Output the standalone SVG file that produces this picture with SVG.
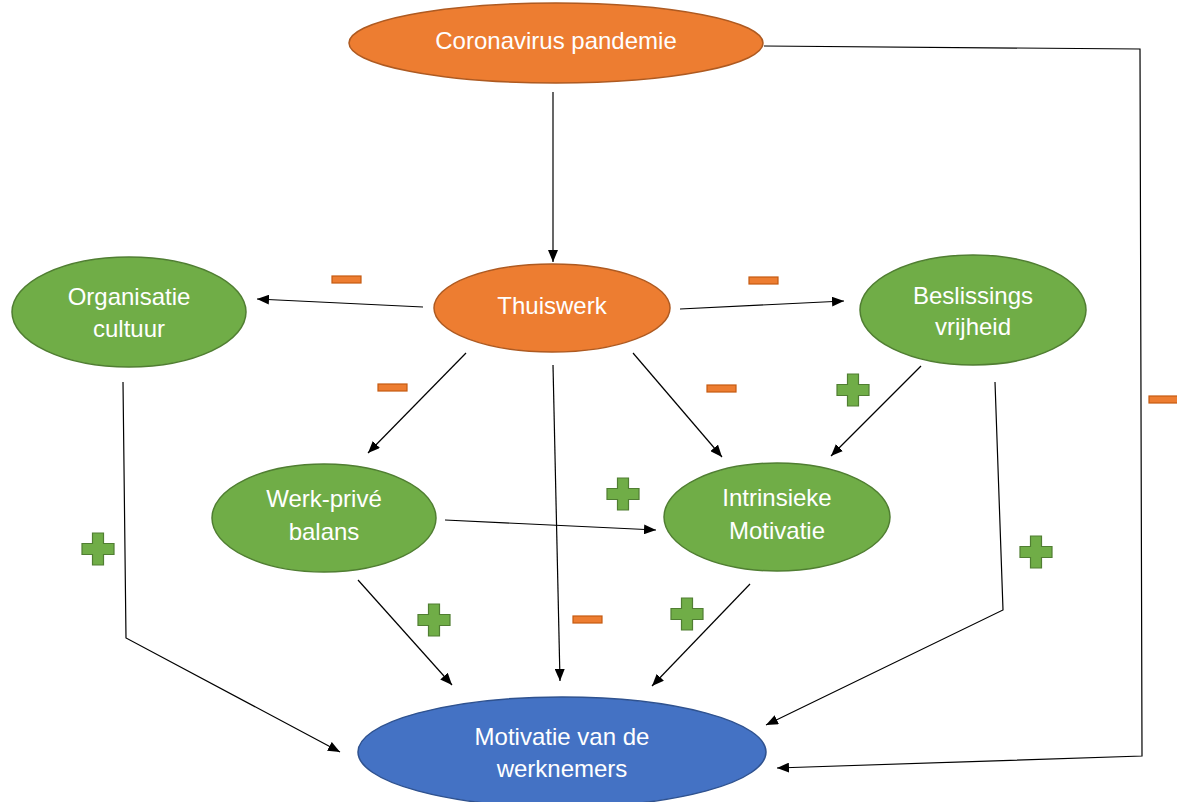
<svg xmlns="http://www.w3.org/2000/svg" width="1177" height="802" viewBox="0 0 1177 802">
<style>
.o{fill:#ED7D31;stroke:#AE5A21;stroke-width:1.5}
.g{fill:#70AD47;stroke:#507E32;stroke-width:1.5}
.b{fill:#4472C4;stroke:#2F528F;stroke-width:1.5}
.t{font-family:"Liberation Sans",Arial,sans-serif;font-size:24px;fill:#fff;text-anchor:middle}
.c{fill:none;stroke:#000;stroke-width:1.2}
.m{fill:#ED7D31;stroke:#C55A11;stroke-width:1.2}
.p{fill:#70AD47;stroke:#507E32;stroke-width:1.2}
</style>
<defs>
<marker id="a" viewBox="0 0 12 10" refX="12" refY="5" markerWidth="12" markerHeight="10" orient="auto" markerUnits="userSpaceOnUse"><path d="M0,0 L12,5 L0,10 z" fill="#000"/></marker>
<path id="plus" d="M-5.5,-16 H5.5 V-5.5 H16 V5.5 H5.5 V16 H-5.5 V5.5 H-16 V-5.5 H-5.5 Z"/>
</defs>
<rect width="1177" height="802" fill="#fff"/>
<g id="connectors">
<line class="c" x1="553" y1="92" x2="553" y2="262" marker-end="url(#a)"/>
<line class="c" x1="423" y1="307" x2="257" y2="299" marker-end="url(#a)"/>
<line class="c" x1="680" y1="309" x2="844" y2="301" marker-end="url(#a)"/>
<line class="c" x1="466" y1="353" x2="368" y2="453" marker-end="url(#a)"/>
<line class="c" x1="553" y1="365" x2="560" y2="681" marker-end="url(#a)"/>
<line class="c" x1="633" y1="353" x2="722" y2="457" marker-end="url(#a)"/>
<line class="c" x1="921" y1="366" x2="831" y2="456" marker-end="url(#a)"/>
<line class="c" x1="445" y1="520" x2="656" y2="530" marker-end="url(#a)"/>
<polyline class="c" points="123,382 126,638 340,752" marker-end="url(#a)"/>
<line class="c" x1="358" y1="580" x2="452" y2="685" marker-end="url(#a)"/>
<line class="c" x1="750" y1="584" x2="652" y2="686" marker-end="url(#a)"/>
<polyline class="c" points="995,382 1003,610 766,725" marker-end="url(#a)"/>
<polyline class="c" points="764,46 1140,49 1142,756 777,768" marker-end="url(#a)"/>
</g>
<g id="signs">
<rect class="m" x="332" y="276" width="29" height="7"/>
<rect class="m" x="749" y="277" width="29" height="7"/>
<rect class="m" x="378" y="384" width="29" height="7"/>
<rect class="m" x="707" y="385" width="29" height="7"/>
<rect class="m" x="1149" y="396" width="29" height="7"/>
<rect class="m" x="573" y="616" width="29" height="7"/>
<use href="#plus" class="p" x="853" y="390"/>
<use href="#plus" class="p" x="98" y="549"/>
<use href="#plus" class="p" x="623" y="494"/>
<use href="#plus" class="p" x="434" y="620"/>
<use href="#plus" class="p" x="687" y="614"/>
<use href="#plus" class="p" x="1036" y="552"/>
</g>
<g id="corona">
<ellipse class="o" cx="556" cy="43" rx="207" ry="40"/>
<text class="t" x="556" y="49">Coronavirus pandemie</text>
</g>
<g id="thuiswerk">
<ellipse class="o" cx="552" cy="308" rx="118" ry="44"/>
<text class="t" x="552" y="314">Thuiswerk</text>
</g>
<g id="organisatie">
<ellipse class="g" cx="129" cy="312" rx="117" ry="55"/>
<text class="t" x="129" y="305">Organisatie</text>
<text class="t" x="129" y="337">cultuur</text>
</g>
<g id="beslissings">
<ellipse class="g" cx="973" cy="310" rx="113" ry="55"/>
<text class="t" x="973" y="304">Beslissings</text>
<text class="t" x="973" y="335">vrijheid</text>
</g>
<g id="werkprive">
<ellipse class="g" cx="324" cy="518" rx="112" ry="54"/>
<text class="t" x="324" y="507">Werk-privé</text>
<text class="t" x="324" y="540">balans</text>
</g>
<g id="intrinsieke">
<ellipse class="g" cx="777" cy="517" rx="113" ry="54"/>
<text class="t" x="777" y="506">Intrinsieke</text>
<text class="t" x="777" y="539">Motivatie</text>
</g>
<g id="motivatie">
<ellipse class="b" cx="562" cy="752" rx="204" ry="55"/>
<text class="t" x="562" y="745">Motivatie van de</text>
<text class="t" x="562" y="777">werknemers</text>
</g>
</svg>
